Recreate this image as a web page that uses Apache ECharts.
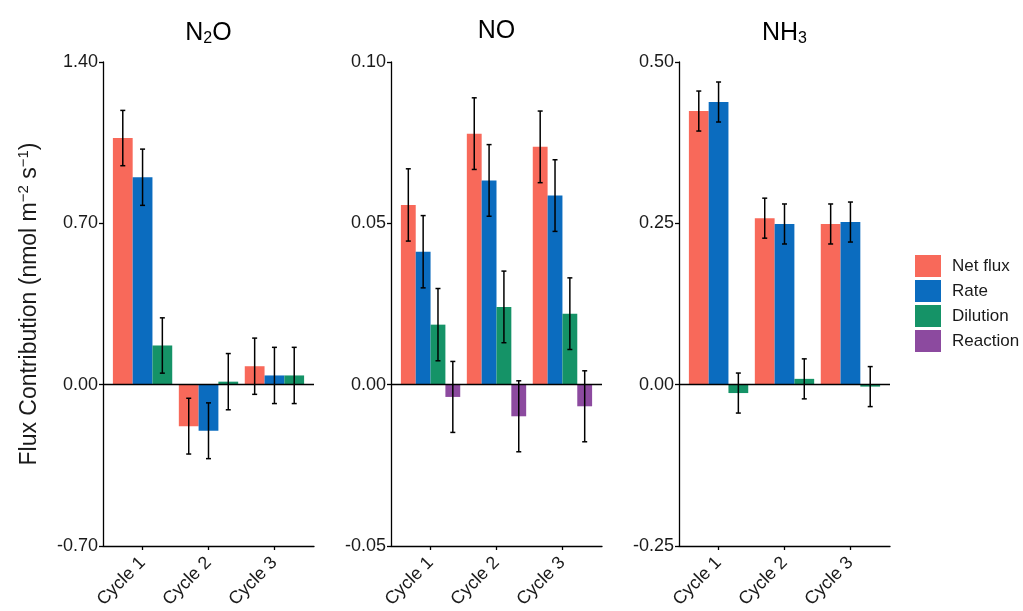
<!DOCTYPE html>
<html>
<head>
<meta charset="utf-8">
<script src="https://cdn.jsdelivr.net/npm/echarts@6/dist/echarts.min.js"></script>
<style>
  html, body { margin: 0; background: #fff; }
  #chart { width: 1023px; height: 611px; }
</style>
</head>
<body>
<div id="chart"></div>
<script>
var cycles = ['Cycle 1', 'Cycle 2', 'Cycle 3'];
var names = ['Net flux', 'Rate', 'Dilution', 'Reaction'];
var colors = ['#F8695A', '#0B6CBF', '#159367', '#8C4A9F'];

// N2O
var n2oNet = [1.07, -0.18, 0.08];
var n2oRate = [0.90, -0.20, 0.04];
var n2oDil = [0.17, 0.013, 0.04];
var n2oNetSe = [0.12, 0.121, 0.122];
var n2oRateSe = [0.122, 0.121, 0.122];
var n2oDilSe = [0.12, 0.122, 0.122];

// NO
var noNet = [0.0557, 0.0778, 0.0737];
var noRate = [0.0412, 0.0633, 0.0586];
var noDil = [0.0186, 0.0241, 0.0220];
var noReac = [-0.0038, -0.0098, -0.0067];
var noNetSe = [0.0112, 0.0111, 0.0111];
var noRateSe = [0.0112, 0.0111, 0.0111];
var noDilSe = [0.0112, 0.0111, 0.0111];
var noReacSe = [0.011, 0.011, 0.011];

// NH3
var nh3Net = [0.424, 0.258, 0.249];
var nh3Rate = [0.438, 0.249, 0.252];
var nh3Dil = [-0.013, 0.009, -0.003];
var nh3NetSe = [0.031, 0.031, 0.031];
var nh3RateSe = [0.031, 0.031, 0.031];
var nh3DilSe = [0.031, 0.031, 0.031];

// y axes
var yMin = [-0.70, -0.05, -0.25];
var yMax = [1.40, 0.10, 0.50];
var yStep = [0.70, 0.05, 0.25];

var panels = [
  { title: 'N{sub|2}O', vals: [n2oNet, n2oRate, n2oDil], errs: [n2oNetSe, n2oRateSe, n2oDilSe] },
  { title: 'NO', vals: [noNet, noRate, noDil, noReac], errs: [noNetSe, noRateSe, noDilSe, noReacSe] },
  { title: 'NH{sub|3}', vals: [nh3Net, nh3Rate, nh3Dil], errs: [nh3NetSe, nh3RateSe, nh3DilSe] }
];

var lefts = [103, 391, 679];
var panelW = 211;
var font = 'Liberation Sans, Arial, sans-serif';
var ink = '#1a1a1a';

function renderErr(params, api) {
  var k = api.value(3), n = api.value(4);
  var x = api.value(0) - 0.45 + (k + 0.5) * 0.9 / n;
  var lo = api.coord([x, api.value(1)]);
  var hi = api.coord([x, api.value(2)]);
  var cap = 2.5;
  var st = { stroke: '#000', lineWidth: 1.5 };
  return {
    type: 'group',
    children: [
      { type: 'line', shape: { x1: lo[0], y1: lo[1], x2: hi[0], y2: hi[1] }, style: st },
      { type: 'line', shape: { x1: lo[0] - cap, y1: lo[1], x2: lo[0] + cap, y2: lo[1] }, style: st },
      { type: 'line', shape: { x1: hi[0] - cap, y1: hi[1], x2: hi[0] + cap, y2: hi[1] }, style: st }
    ]
  };
}

var grids = [], xAxes = [], yAxes = [], titles = [], series = [];

panels.forEach(function (p, pi) {
  grids.push({ left: lefts[pi], top: 62, width: panelW, height: 484, outerBoundsMode: 'none' });
  titles.push({
    text: p.title,
    left: lefts[pi] + panelW / 2,
    top: 19,
    padding: 0,
    textAlign: 'center',
    textStyle: {
      fontFamily: font, fontSize: 25, fontWeight: 'normal', color: '#000',
      rich: { sub: { fontFamily: font, fontSize: 16, color: '#000', padding: [12, 0, 0, 0] } }
    }
  });
  xAxes.push({
    gridIndex: pi, type: 'value', min: 0.4, max: 3.6,
    splitLine: { show: false },
    axisLine: { onZero: false, lineStyle: { color: '#000', width: 1.3 } },
    axisTick: { customValues: [1, 2, 3], length: 4, lineStyle: { color: '#000', width: 1.3 } },
    axisLabel: {
      customValues: [1, 2, 3], rotate: 45, margin: 14,
      fontFamily: font, fontSize: 18, color: ink,
      formatter: function (v) { return cycles[Math.round(v) - 1]; }
    }
  });
  var ya = {
    gridIndex: pi, type: 'value', min: yMin[pi], max: yMax[pi], interval: yStep[pi],
    splitLine: { show: false },
    axisLine: { show: true, onZero: false, lineStyle: { color: '#000', width: 1.3 } },
    axisTick: { show: true, length: 4, lineStyle: { color: '#000', width: 1.3 } },
    axisLabel: {
      margin: 5, fontFamily: font, fontSize: 18, color: ink,
      formatter: function (v) { return v.toFixed(2); }
    }
  };
  if (pi === 0) {
    ya.name = 'Flux Contribution (nmol m{sup|\u22122} s{sup|\u22121})';
    ya.nameLocation = 'middle';
    ya.nameGap = 60;
    ya.nameTextStyle = {
      fontFamily: font, fontSize: 23, color: ink,
      rich: { sup: { fontFamily: font, fontSize: 15, color: ink, padding: [0, 0, 12, 0] } }
    };
  }
  yAxes.push(ya);

  var n = p.vals.length;
  var errData = [];
  p.vals.forEach(function (vals, k) {
    var s = {
      name: names[k], type: 'bar', xAxisIndex: pi, yAxisIndex: pi,
      barGap: '0%', barCategoryGap: '10%',
      itemStyle: { color: colors[k] },
      emphasis: { disabled: true },
      data: vals.map(function (v, i) { return [i + 1, v]; })
    };
    if (k === 0) {
      s.markLine = {
        silent: true, symbol: 'none', label: { show: false },
        lineStyle: { color: '#000', width: 1.3, type: 'solid' },
        data: [{ yAxis: 0 }]
      };
    }
    series.push(s);
    vals.forEach(function (v, i) {
      errData.push([i + 1, v - p.errs[k][i], v + p.errs[k][i], k, n]);
    });
  });
  series.push({
    type: 'custom', xAxisIndex: pi, yAxisIndex: pi, z: 5, silent: true,
    renderItem: renderErr,
    encode: { x: 0, y: [1, 2] },
    data: errData
  });
});

var chart = echarts.init(document.getElementById('chart'));
chart.setOption({
  backgroundColor: '#fff',
  animation: false,
  title: titles,
  grid: grids,
  xAxis: xAxes,
  yAxis: yAxes,
  legend: {
    orient: 'vertical', left: 915, top: 255, padding: 0,
    data: names, icon: 'rect',
    itemWidth: 26, itemHeight: 22, itemGap: 3,
    textStyle: { fontFamily: font, fontSize: 17, color: ink, padding: [0, 0, 0, 6] }
  },
  series: series
});
</script>
</body>
</html>
